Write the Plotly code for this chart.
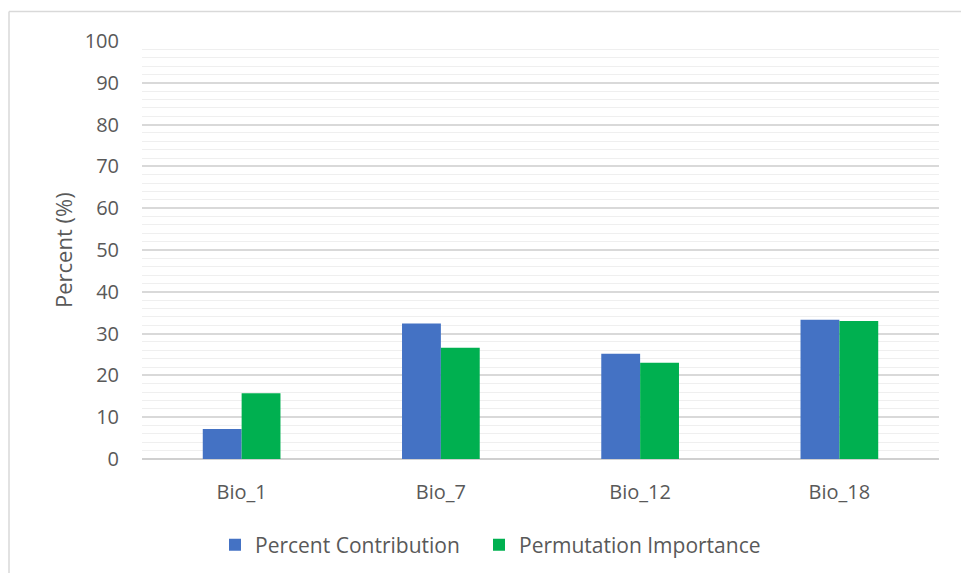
import plotly.graph_objects as go

categories = ["Bio_1", "Bio_7", "Bio_12", "Bio_18"]
percent_contribution = [7.2, 32.4, 25.2, 33.3]
permutation_importance = [15.7, 26.6, 23.0, 33.0]

TEXT = "#595959"
FONT = "Open Sans"

fig = go.Figure()
fig.add_trace(go.Bar(name="Percent Contribution", x=categories, y=percent_contribution,
                     marker=dict(color="#4472C4", line=dict(width=0)), legend="legend"))
fig.add_trace(go.Bar(name="Permutation Importance", x=categories, y=permutation_importance,
                     marker=dict(color="#00B050", line=dict(width=0)), legend="legend2"))

W, H = 961, 573
L, R, T, B = 142, 22, 41, 114
pw, ph = W - L - R, H - T - B

def px(x):
    return (x - L) / pw

def py(y):
    return (H - B - y) / ph

legend_style = dict(orientation="h", xanchor="left", y=py(545), yanchor="middle",
                    font=dict(size=21, color=TEXT), itemwidth=30)

fig.update_layout(
    width=W, height=H,
    margin=dict(l=L, r=R, t=T, b=B, autoexpand=False),
    paper_bgcolor="white", plot_bgcolor="white",
    barmode="group", bargap=0.61, bargroupgap=0,
    font=dict(family=FONT, size=20, color=TEXT),
    showlegend=True,
    legend=dict(x=px(215), **legend_style),
    legend2=dict(x=px(479), **legend_style),
    xaxis=dict(showgrid=False, showline=False, ticks="", ticklabelstandoff=19,
               tickfont=dict(size=20, color=TEXT)),
    yaxis=dict(range=[0, 100], dtick=10, showgrid=True, gridcolor="#d9d9d9", gridwidth=1.5,
               zeroline=True, zerolinecolor="#d0d0d0", zerolinewidth=1.5,
               showline=False, ticks="", ticklabelstandoff=22,
               tickfont=dict(size=20, color=TEXT),
               minor=dict(dtick=2, showgrid=True, gridcolor="#efefef", gridwidth=1)),
    annotations=[dict(text="Percent (%)", x=px(63), y=0.5, xref="paper", yref="paper",
                      xanchor="center", yanchor="middle",
                      textangle=-90, showarrow=False, font=dict(size=22, color=TEXT))],
    shapes=[
        dict(type="line", xref="paper", yref="paper", x0=px(9), x1=px(961),
             y0=py(11.5), y1=py(11.5), line=dict(color="#d9d9d9", width=1.5)),
        dict(type="line", xref="paper", yref="paper", x0=px(9), x1=px(9),
             y0=py(11.5), y1=py(573), line=dict(color="#d9d9d9", width=1.5)),
    ],
)

fig.write_html("out.html")
